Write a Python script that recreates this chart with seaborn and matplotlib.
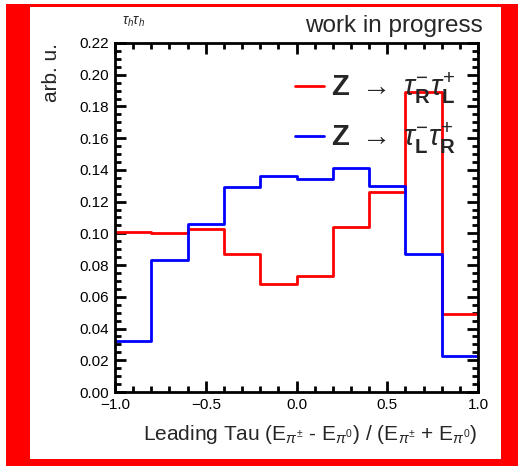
import matplotlib
matplotlib.use("Agg")
import matplotlib.pyplot as plt
from matplotlib.patches import Rectangle
from matplotlib.lines import Line2D
from matplotlib.ticker import MultipleLocator, FuncFormatter
import seaborn as sns
import numpy as np
import pandas as pd

# binning of the leading tau energy asymmetry
bin_edges = [-1.0, -0.8, -0.6, -0.4, -0.2, 0.0, 0.2, 0.4, 0.6, 0.8, 1.0]
bin_centers = [-0.9, -0.7, -0.5, -0.3, -0.1, 0.1, 0.3, 0.5, 0.7, 0.9]

# normalised histograms
tau_RL = [0.101, 0.100, 0.103, 0.087, 0.068, 0.073, 0.104, 0.126, 0.189, 0.049]
tau_LR = [0.032, 0.083, 0.106, 0.129, 0.136, 0.134, 0.141, 0.130, 0.087, 0.023]

label_RL = r"$\mathbf{Z}\ \rightarrow\ \tau^{-}_{\mathbf{R}}\tau^{+}_{\mathbf{L}}$"
label_LR = r"$\mathbf{Z}\ \rightarrow\ \tau^{-}_{\mathbf{L}}\tau^{+}_{\mathbf{R}}$"

sns.set_style("ticks")
plt.rcParams["font.family"] = ["Liberation Sans", "DejaVu Sans"]
plt.rcParams["mathtext.fontset"] = "custom"
plt.rcParams["mathtext.rm"] = "Liberation Sans"
plt.rcParams["mathtext.it"] = "Liberation Sans:italic"
plt.rcParams["mathtext.bf"] = "Liberation Sans:bold"

fig = plt.figure(figsize=(5.18, 4.66), dpi=100)
fig.patch.set_facecolor("white")

# red canvas frame with white pad
W, H = 518.0, 466.0
fig.add_artist(Rectangle((6 / W, 0), 1 - 6 / W, 1 - 4 / H, transform=fig.transFigure,
                         facecolor="#ff0000", edgecolor="none", zorder=-2))
fig.add_artist(Rectangle((30 / W, 1 - 459 / H), (501 - 30) / W, (459 - 7) / H,
                         transform=fig.transFigure, facecolor="white",
                         edgecolor="none", zorder=-1))

ax = fig.add_axes([115 / W, 1 - 392 / H, (478 - 115) / W, (392 - 43) / H])

df = pd.DataFrame({
    "x": bin_centers * 2,
    "w": tau_RL + tau_LR,
    "sample": ["RL"] * len(tau_RL) + ["LR"] * len(tau_LR),
})

for name, color in [("RL", "#ff0000"), ("LR", "#0000ff")]:
    sns.histplot(data=df[df["sample"] == name], x="x", weights="w", bins=bin_edges,
                 element="step", fill=False, color=color, linewidth=2, ax=ax)

ax.set_xlim(-1.0, 1.0)
ax.set_ylim(0.0, 0.22)
ax.xaxis.set_major_locator(MultipleLocator(0.5))
ax.xaxis.set_minor_locator(MultipleLocator(0.1))
ax.yaxis.set_major_locator(MultipleLocator(0.02))
ax.yaxis.set_minor_locator(MultipleLocator(0.005))
ax.yaxis.set_major_formatter(FuncFormatter(lambda v, p: f"{v:.2f}"))
ax.xaxis.set_major_formatter(FuncFormatter(lambda v, p: f"{v:.1f}".replace("-", "\u2212")))
ax.tick_params(which="both", direction="in", top=True, right=True, width=2,
               labelsize=11, colors="black")
ax.tick_params(which="major", length=8, pad=4)
ax.tick_params(which="minor", length=4)
for s in ax.spines.values():
    s.set_linewidth(2)
    s.set_color("black")

ax.set_xlabel(r"Leading Tau (E$_{\pi^{\pm}}$ - E$_{\pi^{0}}$) / (E$_{\pi^{\pm}}$ + E$_{\pi^{0}}$)",
              fontsize=15, loc="right")
ax.xaxis.set_label_coords(1.0, -0.09)
ax.set_ylabel("arb. u.", fontsize=15, loc="top")
ax.yaxis.set_label_coords(-0.15, 1.0)

handles = [Line2D([], [], color="#ff0000", linewidth=2),
           Line2D([], [], color="#0000ff", linewidth=2)]
ax.legend(handles, [label_RL, label_LR], frameon=False, fontsize=21,
          loc="upper left", bbox_to_anchor=(295 / W, 1 - 70 / H),
          bbox_transform=fig.transFigure, handlelength=1.0, handletextpad=0.25,
          borderpad=0, borderaxespad=0, labelspacing=0.5)

fig.text(122 / W, 1 - 22 / H, r"$\tau_{h}\tau_{h}$", fontsize=10, ha="left", va="center")
fig.text(483 / W, 1 - 26 / H, "work in progress", fontsize=17.5, ha="right", va="center")

fig.savefig("out.png", dpi=100)
